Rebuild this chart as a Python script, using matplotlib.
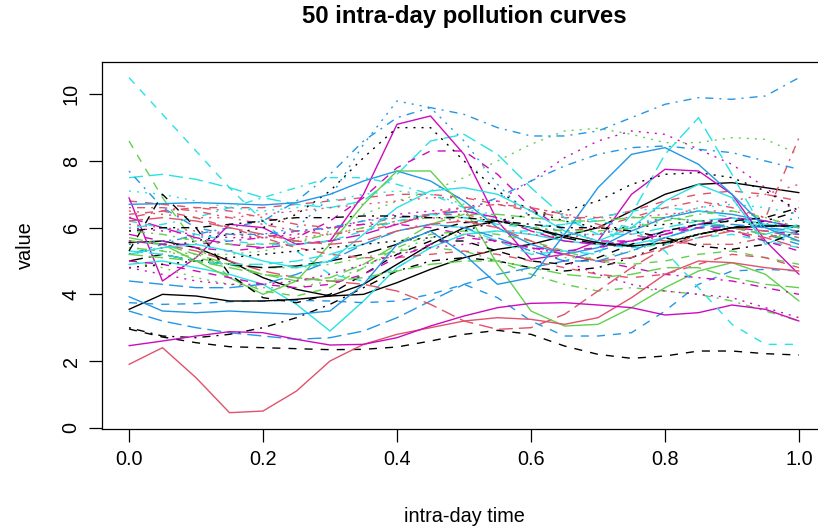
import numpy as np
import matplotlib
matplotlib.use("Agg")
import matplotlib.pyplot as plt

plt.rcParams['font.family'] = ['Liberation Sans', 'DejaVu Sans']

# intra-day time grid
t_grid = [0.0, 0.05, 0.1, 0.15, 0.2, 0.25, 0.3, 0.35, 0.4, 0.45, 0.5,
          0.55, 0.6, 0.65, 0.7, 0.75, 0.8, 0.85, 0.9, 0.95, 1.0]

c00 = [5.55, 5.6, 5.4, 5.0, 4.5, 4.15, 3.95, 4.0, 4.35, 4.75, 5.1, 5.35, 5.5, 5.75, 6.0, 6.5, 7.0, 7.3, 7.35, 7.2, 7.05]
c01 = [6.8, 6.7, 6.6, 6.6, 6.6, 6.7, 6.8, 6.9, 7.0, 7.0, 6.9, 6.7, 6.5, 6.3, 6.3, 6.5, 6.8, 7.0, 7.1, 7.0, 6.8]
c02 = [5.4, 5.3, 5.2, 5.2, 5.3, 5.5, 5.9, 6.4, 6.8, 7.1, 7.5, 8.0, 8.5, 8.9, 8.98, 8.8, 8.55, 8.55, 8.7, 8.65, 8.2]
c03 = [5.2, 5.5, 5.8, 6.0, 6.2, 6.8, 7.6, 8.6, 9.3, 9.6, 9.4, 9.0, 8.75, 8.75, 8.9, 9.3, 9.7, 9.9, 9.85, 9.95, 10.5]
c04 = [7.5, 7.6, 7.45, 7.2, 6.9, 6.7, 6.6, 6.8, 7.6, 8.6, 8.8, 8.2, 7.2, 6.3, 5.8, 5.8, 6.0, 6.2, 6.3, 6.1, 6.0]
c05 = [6.9, 4.4, 5.1, 6.1, 6.0, 5.5, 5.6, 7.0, 9.1, 9.35, 8.2, 6.2, 5.05, 5.2, 5.6, 7.0, 7.75, 7.7, 7.0, 5.6, 4.6]
c06 = [2.96, 2.72, 2.55, 2.43, 2.4, 2.37, 2.34, 2.35, 2.42, 2.6, 2.8, 2.92, 2.8, 2.45, 2.2, 2.08, 2.15, 2.3, 2.3, 2.22, 2.18]
c07 = [6.5, 6.4, 6.3, 6.3, 6.4, 6.5, 6.6, 6.7, 6.8, 6.9, 6.9, 6.8, 6.6, 6.4, 6.3, 6.3, 6.4, 6.5, 6.5, 6.3, 6.0]
c08 = [5.4, 5.3, 5.1, 4.9, 4.8, 4.8, 4.9, 5.1, 5.3, 5.4, 5.3, 5.0, 4.6, 4.3, 4.1, 4.2, 4.1, 4.0, 3.8, 3.5, 3.2]
c09 = [3.5, 3.2, 3.0, 2.85, 2.75, 2.65, 2.7, 2.9, 3.3, 3.8, 4.3, 4.6, 4.8, 5.0, 5.3, 5.6, 5.9, 6.1, 6.0, 5.8, 5.5]
c10 = [4.9, 5.0, 4.8, 4.6, 4.3, 3.7, 2.9, 3.8, 4.8, 5.4, 5.8, 5.9, 5.8, 5.6, 5.5, 5.5, 5.7, 6.0, 6.3, 6.0, 5.8]
c11 = [5.8, 5.6, 5.4, 5.3, 5.4, 5.7, 6.2, 6.9, 7.8, 8.3, 8.3, 7.6, 6.6, 5.9, 5.6, 5.6, 5.8, 6.0, 6.0, 5.9, 5.8]
c12 = [5.2, 5.4, 5.6, 5.8, 6.0, 6.4, 7.1, 8.1, 9.0, 9.0, 8.0, 7.1, 6.5, 6.2, 6.0, 6.0, 6.1, 6.2, 6.2, 6.1, 6.0]
c13 = [6.3, 6.5, 6.6, 6.5, 6.3, 6.1, 6.0, 6.1, 6.3, 6.4, 6.4, 6.2, 6.0, 5.9, 6.0, 6.3, 6.6, 6.8, 6.6, 6.3, 8.7]
c14 = [5.7, 5.5, 5.2, 4.9, 4.6, 4.4, 4.5, 4.9, 5.5, 6.1, 6.4, 6.4, 6.3, 6.2, 6.2, 6.3, 6.3, 6.2, 6.0, 5.8, 5.6]
c15 = [6.7, 6.72, 6.75, 6.72, 6.68, 6.75, 7.0, 7.4, 7.7, 7.4, 6.8, 6.0, 5.5, 5.2, 5.4, 5.9, 6.3, 6.5, 6.4, 6.2, 6.0]
c16 = [10.5, 9.4, 8.3, 7.2, 6.2, 5.3, 4.6, 4.4, 4.8, 5.4, 5.8, 5.9, 5.9, 5.7, 5.5, 5.4, 5.5, 5.7, 5.8, 5.6, 5.4]
c17 = [6.0, 5.9, 5.8, 5.7, 5.7, 5.8, 6.0, 6.2, 6.4, 6.5, 6.6, 6.8, 7.4, 8.1, 8.6, 8.9, 8.8, 8.35, 7.9, 7.2, 6.4]
c18 = [3.0, 2.75, 2.7, 2.8, 3.0, 3.3, 3.7, 4.2, 4.7, 5.0, 5.1, 5.0, 4.8, 4.7, 4.8, 5.1, 5.5, 5.8, 6.0, 6.2, 6.5]
c19 = [5.6, 5.5, 5.3, 5.0, 4.7, 4.5, 4.4, 4.3, 4.1, 3.7, 3.2, 2.95, 3.0, 3.4, 4.1, 4.8, 5.4, 5.8, 6.0, 5.9, 5.7]
c20 = [5.6, 5.5, 5.0, 4.5, 4.0, 4.4, 5.5, 6.7, 7.7, 7.7, 6.6, 4.9, 3.5, 3.05, 3.1, 3.6, 4.2, 4.7, 4.95, 4.6, 3.8]
c21 = [3.75, 3.7, 3.72, 3.78, 3.8, 3.82, 3.8, 3.75, 3.8, 4.0, 4.3, 3.9, 3.2, 2.75, 2.75, 2.85, 3.5, 4.3, 4.7, 4.75, 4.7]
c22 = [7.1, 7.0, 6.8, 6.6, 6.5, 6.6, 6.8, 7.0, 7.1, 7.0, 6.7, 6.3, 6.0, 5.8, 5.8, 6.0, 6.3, 6.6, 6.7, 6.6, 6.4]
c23 = [5.6, 5.5, 5.5, 5.6, 5.7, 5.9, 6.0, 6.1, 6.1, 6.0, 5.8, 5.6, 5.4, 5.2, 5.0, 4.8, 4.6, 4.5, 4.4, 4.2, 4.0]
c24 = [5.0, 5.2, 5.0, 4.9, 4.8, 4.85, 5.0, 5.2, 5.5, 5.9, 6.15, 6.2, 6.0, 5.7, 5.5, 5.45, 5.55, 5.8, 6.0, 6.05, 6.05]
c25 = [1.9, 2.4, 1.5, 0.45, 0.5, 1.1, 2.0, 2.5, 2.8, 3.0, 3.2, 3.3, 3.25, 3.1, 3.3, 3.9, 4.6, 5.0, 4.95, 4.8, 4.7]
c26 = [8.6, 6.9, 5.5, 4.5, 4.1, 3.95, 4.2, 4.8, 5.4, 5.8, 5.9, 5.8, 5.6, 5.3, 5.0, 4.9, 5.0, 5.2, 5.3, 5.1, 4.9]
c27 = [5.5, 5.6, 5.7, 5.8, 5.8, 6.0, 6.9, 8.5, 9.8, 9.6, 8.6, 7.3, 6.3, 5.8, 5.8, 6.1, 6.3, 6.2, 6.0, 6.1, 6.3]
c28 = [6.0, 6.1, 6.3, 6.6, 6.9, 7.2, 7.5, 7.5, 7.3, 7.0, 6.6, 6.2, 6.0, 6.1, 6.3, 6.5, 6.6, 6.5, 6.3, 6.1, 5.9]
c29 = [6.3, 6.0, 5.7, 5.5, 5.4, 5.5, 5.6, 5.8, 6.1, 6.4, 6.5, 6.3, 5.9, 5.6, 5.5, 5.6, 5.8, 6.1, 6.3, 6.2, 6.0]
c30 = [3.55, 4.0, 3.95, 3.8, 3.8, 3.85, 3.95, 4.3, 4.9, 5.5, 6.0, 6.2, 6.0, 5.75, 5.55, 5.45, 5.55, 5.8, 6.0, 6.05, 6.05]
c31 = [6.4, 6.5, 6.3, 6.0, 5.7, 5.4, 5.2, 5.1, 5.1, 5.2, 5.3, 5.2, 5.0, 4.8, 4.6, 4.5, 4.6, 4.9, 5.2, 5.1, 4.8]
c32 = [5.0, 4.8, 4.5, 4.3, 4.2, 4.2, 4.4, 4.8, 5.3, 5.7, 5.8, 5.6, 5.3, 5.1, 5.1, 5.3, 5.6, 5.8, 5.9, 5.8, 5.7]
c33 = [7.7, 6.6, 6.0, 5.8, 5.8, 5.9, 6.0, 6.2, 6.3, 6.4, 6.5, 6.9, 7.4, 7.85, 8.2, 8.4, 8.45, 8.35, 8.25, 8.0, 7.75]
c34 = [5.3, 5.2, 5.0, 4.9, 4.9, 5.0, 5.2, 5.5, 5.9, 6.1, 6.0, 5.6, 5.2, 5.3, 5.2, 6.4, 8.2, 9.3, 7.6, 5.8, 6.1]
c35 = [2.46, 2.6, 2.75, 2.88, 2.85, 2.65, 2.48, 2.5, 2.7, 3.05, 3.35, 3.6, 3.73, 3.75, 3.68, 3.6, 3.38, 3.45, 3.68, 3.55, 3.2]
c36 = [5.3, 7.0, 6.0, 4.6, 3.9, 3.75, 4.0, 4.6, 5.2, 5.6, 5.6, 5.3, 5.0, 4.9, 5.1, 5.5, 5.9, 6.1, 6.2, 6.3, 6.6]
c37 = [6.1, 6.0, 5.9, 5.8, 5.7, 5.7, 5.8, 6.0, 6.2, 6.3, 6.2, 6.0, 5.8, 5.7, 5.8, 6.0, 6.3, 6.6, 6.8, 7.0, 7.3]
c38 = [5.9, 5.8, 5.6, 5.5, 5.5, 5.6, 5.8, 6.0, 6.2, 6.3, 6.3, 6.2, 6.0, 5.9, 5.9, 6.0, 6.2, 6.4, 6.5, 6.3, 6.0]
c39 = [4.4, 4.3, 4.2, 4.2, 4.3, 4.6, 5.0, 5.5, 5.9, 6.1, 6.0, 5.7, 5.3, 5.0, 5.0, 5.3, 5.7, 6.0, 6.1, 6.0, 5.9]
c40 = [5.2, 5.4, 5.5, 5.3, 5.0, 4.8, 5.0, 5.8, 6.6, 7.1, 7.2, 7.0, 6.5, 5.9, 5.6, 6.0, 6.8, 7.3, 6.9, 5.5, 5.9]
c41 = [5.0, 4.9, 4.7, 4.5, 4.3, 4.2, 4.3, 4.6, 5.1, 5.5, 5.7, 5.6, 5.4, 5.3, 5.4, 5.6, 5.9, 6.0, 5.9, 5.6, 5.3]
c42 = [4.8, 4.9, 5.0, 5.1, 5.2, 5.3, 5.4, 5.5, 5.6, 5.7, 5.9, 6.2, 6.4, 6.5, 6.8, 7.3, 7.6, 7.65, 7.5, 7.1, 6.5]
c43 = [6.6, 6.6, 6.5, 6.3, 6.1, 5.9, 5.8, 5.9, 6.1, 6.4, 6.6, 6.7, 6.6, 6.4, 6.1, 5.8, 5.6, 5.5, 5.5, 5.7, 5.9]
c44 = [5.2, 5.1, 5.0, 4.8, 4.6, 4.5, 4.4, 4.5, 4.7, 4.9, 5.0, 5.0, 4.8, 4.6, 4.5, 4.6, 4.8, 4.8, 4.5, 4.3, 4.2]
c45 = [3.93, 3.5, 3.45, 3.5, 3.45, 3.4, 3.5, 4.3, 5.5, 5.9, 5.2, 4.3, 4.5, 5.8, 7.2, 8.2, 8.4, 7.9, 7.0, 6.0, 5.6]
c46 = [6.2, 6.0, 5.8, 5.6, 5.5, 5.5, 5.6, 5.9, 6.2, 6.4, 6.3, 6.1, 6.0, 6.1, 6.2, 6.0, 5.3, 4.2, 3.1, 2.5, 2.5]
c47 = [4.8, 4.6, 4.4, 4.3, 4.3, 4.4, 4.6, 4.9, 5.2, 5.4, 5.5, 5.6, 5.4, 5.0, 4.6, 4.3, 4.1, 4.0, 3.9, 3.6, 3.3]
c48 = [5.9, 6.0, 6.0, 6.1, 6.2, 6.3, 6.3, 6.35, 6.35, 6.3, 6.3, 6.2, 6.1, 6.0, 6.0, 5.9, 5.7, 5.45, 5.35, 5.5, 5.9]
c49 = [6.2, 6.3, 6.2, 6.0, 5.8, 5.6, 5.5, 5.6, 5.9, 6.1, 6.2, 6.0, 5.6, 5.2, 5.0, 5.1, 5.4, 5.7, 5.9, 5.7, 5.4]

curves = [c00, c01, c02, c03, c04, c05, c06, c07, c08, c09,
          c10, c11, c12, c13, c14, c15, c16, c17, c18, c19,
          c20, c21, c22, c23, c24, c25, c26, c27, c28, c29,
          c30, c31, c32, c33, c34, c35, c36, c37, c38, c39,
          c40, c41, c42, c43, c44, c45, c46, c47, c48, c49]

x_ticks = [0.0, 0.2, 0.4, 0.6, 0.8, 1.0]
x_tick_labels = ["0.0", "0.2", "0.4", "0.6", "0.8", "1.0"]
y_ticks = [0, 2, 4, 6, 8, 10]
y_tick_labels = ["0", "2", "4", "6", "8", "10"]

palette = ["black", "#DF536B", "#61D04F", "#2297E6", "#28E2E5", "#CD0BBC"]
u = 1.45
ltys = ["-", (0, (4 * u, 4 * u)), (0, (1 * u, 3 * u)),
        (0, (1 * u, 3 * u, 4 * u, 3 * u)), (0, (7 * u, 3 * u))]

W, H = 818, 529
fig = plt.figure(figsize=(W / 100, H / 100), dpi=100)
left, right, bottom, top = 102.2, 825.8, 428.7, 62.3
ax = fig.add_axes([left / W, (H - bottom) / H, (right - left) / W, (bottom - top) / H])

for i, y in enumerate(curves):
    ax.plot(t_grid, y, color=palette[i % 6], linestyle=ltys[i % 5], lw=1.0,
            dash_capstyle='butt', solid_capstyle='round', solid_joinstyle='round')

ax.set_xlim(-0.04, 1.04)
ax.set_ylim(-0.03, 10.96)
ax.set_xticks(x_ticks)
ax.set_xticklabels(x_tick_labels)
ax.set_yticks(y_ticks)
ax.set_yticklabels(y_tick_labels, rotation=90, va='center')
ax.tick_params(direction='out', length=9.5, width=0.9, labelsize=14.3, pad=6)
for s in ax.spines.values():
    s.set_linewidth(0.9)

fig.text(464 / W, 1 - 17 / H, "50 intra-day pollution curves", ha='center', va='center',
         fontsize=17.2, fontweight='bold')
fig.text(464 / W, 1 - 517 / H, "intra-day time", ha='center', va='center', fontsize=14.3)
fig.text(25 / W, 1 - 245 / H, "value", ha='center', va='center', rotation=90, fontsize=14.3)

fig.savefig("out.png", dpi=100)
